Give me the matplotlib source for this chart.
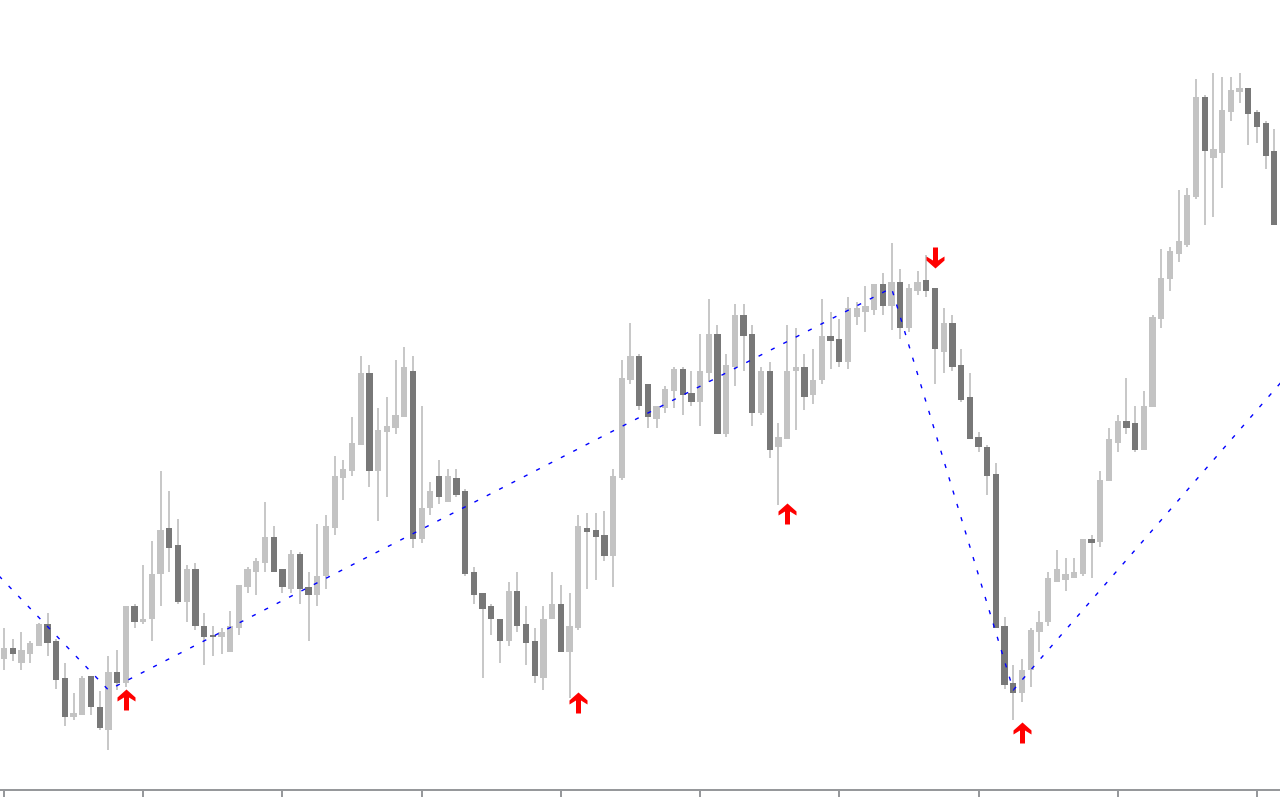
import numpy as np
import matplotlib
matplotlib.use("Agg")
import matplotlib.pyplot as plt
from matplotlib.path import Path

# ---- candle data (price units) ----
open_ = [141, 152, 137, 146, 154, 176, 159, 122, 83, 85, 124, 93, 70, 128, 117, 194, 178, 181, 226, 272,
         255, 198, 231, 174, 165, 163, 148, 172, 213, 228, 237, 263, 231, 211, 246, 213, 205, 224, 272, 322,
         329, 355, 427, 329, 368, 372, 383, 429, 261, 292, 324, 298, 322, 309, 228, 207, 194, 181, 159, 209,
         176, 159, 122, 181, 196, 148, 172, 272, 270, 265, 244, 322, 420, 444, 416, 381, 392, 409, 431, 407,
         398, 427, 466, 366, 433, 485, 466, 387, 429, 353, 361, 429, 433, 405, 420, 464, 461, 438, 483, 488,
         490, 516, 494, 518, 472, 509, 520, 512, 448, 477, 435, 403, 363, 353, 326, 174, 117, 107, 130, 168,
         178, 218, 220, 222, 226, 261, 258, 319, 357, 379, 377, 350, 393, 481, 521, 546, 555, 603, 703, 642,
         647, 688, 708, 712, 688, 677, 649]
high = [172, 161, 168, 159, 177, 187, 161, 137, 107, 124, 124, 109, 144, 150, 194, 196, 235, 259, 329, 309,
        281, 235, 237, 187, 174, 172, 189, 215, 233, 242, 298, 274, 231, 250, 248, 228, 276, 285, 344, 340,
        383, 444, 435, 392, 403, 440, 453, 444, 394, 318, 340, 331, 331, 311, 233, 207, 196, 181, 218, 228,
        194, 172, 194, 228, 215, 207, 285, 287, 287, 289, 331, 440, 477, 446, 416, 394, 414, 433, 433, 429,
        466, 501, 475, 446, 496, 496, 475, 433, 438, 377, 475, 472, 446, 451, 501, 488, 481, 503, 498, 514,
        516, 527, 557, 531, 516, 529, 545, 512, 492, 485, 451, 427, 368, 355, 337, 183, 135, 141, 172, 189,
        228, 250, 242, 242, 261, 265, 329, 372, 385, 422, 394, 409, 485, 551, 553, 610, 612, 721, 705, 727,
        723, 723, 727, 712, 690, 679, 671]
low = [130, 139, 130, 137, 154, 144, 111, 74, 80, 85, 85, 70, 50, 110, 113, 172, 176, 159, 194, 228,
       196, 178, 170, 135, 144, 146, 148, 165, 207, 205, 228, 228, 207, 207, 196, 159, 194, 211, 265, 300,
       324, 355, 313, 279, 303, 366, 383, 252, 257, 285, 296, 298, 303, 224, 196, 122, 165, 137, 154, 168,
       135, 117, 110, 181, 148, 102, 170, 211, 220, 239, 213, 320, 416, 390, 372, 372, 387, 392, 385, 394,
       374, 418, 366, 363, 414, 429, 374, 385, 342, 295, 361, 370, 390, 396, 416, 431, 433, 431, 475, 468,
       485, 485, 470, 461, 468, 505, 503, 416, 427, 429, 398, 361, 348, 305, 172, 111, 80, 98, 113, 148,
       174, 218, 209, 222, 224, 222, 253, 319, 348, 366, 348, 350, 393, 472, 509, 538, 553, 601, 575, 583,
       612, 679, 697, 655, 657, 631, 575]
close = [152, 146, 150, 157, 176, 157, 120, 83, 87, 122, 93, 72, 128, 117, 194, 178, 181, 226, 270, 252,
         198, 231, 174, 163, 163, 168, 174, 215, 231, 239, 263, 228, 213, 246, 211, 205, 224, 274, 324, 331,
         357, 427, 329, 370, 374, 385, 433, 261, 292, 309, 303, 324, 305, 226, 205, 191, 181, 159, 209, 174,
         157, 124, 181, 196, 148, 174, 274, 268, 263, 244, 324, 422, 444, 394, 383, 394, 411, 431, 405, 398,
         429, 466, 366, 435, 485, 464, 387, 429, 350, 363, 429, 433, 403, 420, 464, 459, 438, 492, 492, 494,
         516, 494, 518, 472, 512, 518, 509, 451, 477, 433, 400, 361, 353, 324, 172, 115, 107, 130, 170, 178,
         222, 231, 226, 228, 261, 257, 320, 361, 379, 372, 350, 394, 483, 522, 549, 559, 605, 703, 649, 651,
         690, 710, 712, 686, 673, 644, 575]

# ZigZag indicator line (bar index, price)
zigzag_idx = [-2, 12, 102, 116, 148]
zigzag_val = [237, 110, 512, 110, 430]

# signal arrows (bar index, price of arrow tip)
up_arrow_idx = [14, 66, 90, 117]
up_arrow_val = [111, 108, 297, 78]
down_arrow_idx = [107]
down_arrow_val = [532]

tick_step = 16

# ---- figure ----
fig = plt.figure(figsize=(12.8, 8), dpi=100)
ax = fig.add_axes([0, 10 / 800, 1, 790 / 800])

o = np.array(open_, dtype=float)
h = np.array(high, dtype=float)
l = np.array(low, dtype=float)
c = np.array(close, dtype=float)
x = np.arange(len(o))
is_up = c >= o

ax.vlines(x, l, h, color="#c8c8c8", lw=1.44, zorder=1)
body_bottom = np.minimum(o, c)
body_height = np.maximum(np.abs(c - o), 1.2)
body_colors = np.where(is_up, "#c3c3c3", "#787878")
ax.bar(x, body_height, bottom=body_bottom, width=0.72, color=body_colors,
       linewidth=0, zorder=2)

ax.plot(zigzag_idx, zigzag_val, color="#0000ff", lw=1.0, dashes=(3, 7), zorder=3)

up_verts = [(0, 0), (9, -8), (9, -12), (2.5, -8), (2.5, -21), (-2.5, -21),
            (-2.5, -8), (-9, -12), (-9, -8), (0, 0)]
up_path = Path(up_verts, closed=True)
down_path = Path([(vx, -vy) for vx, vy in up_verts], closed=True)
ms = 2 * 21 * 72 / 100
ax.plot(up_arrow_idx, up_arrow_val, ls="none", marker=up_path, ms=ms,
        mfc="#ff0000", mew=0, zorder=4)
ax.plot(down_arrow_idx, down_arrow_val, ls="none", marker=down_path, ms=ms,
        mfc="#ff0000", mew=0, zorder=4)

ax.set_xlim(-0.46, 146.65)
ax.set_ylim(10, 800)
for s in ("top", "left", "right"):
    ax.spines[s].set_visible(False)
ax.spines["bottom"].set_color("#96989b")
ax.spines["bottom"].set_linewidth(1.44)
ax.set_xticks(np.arange(0, len(o), tick_step))
ax.tick_params(axis="x", length=5, width=1.44, color="#96989b", labelbottom=False)
ax.set_yticks([])

fig.savefig("out.png", dpi=100, facecolor="white")
